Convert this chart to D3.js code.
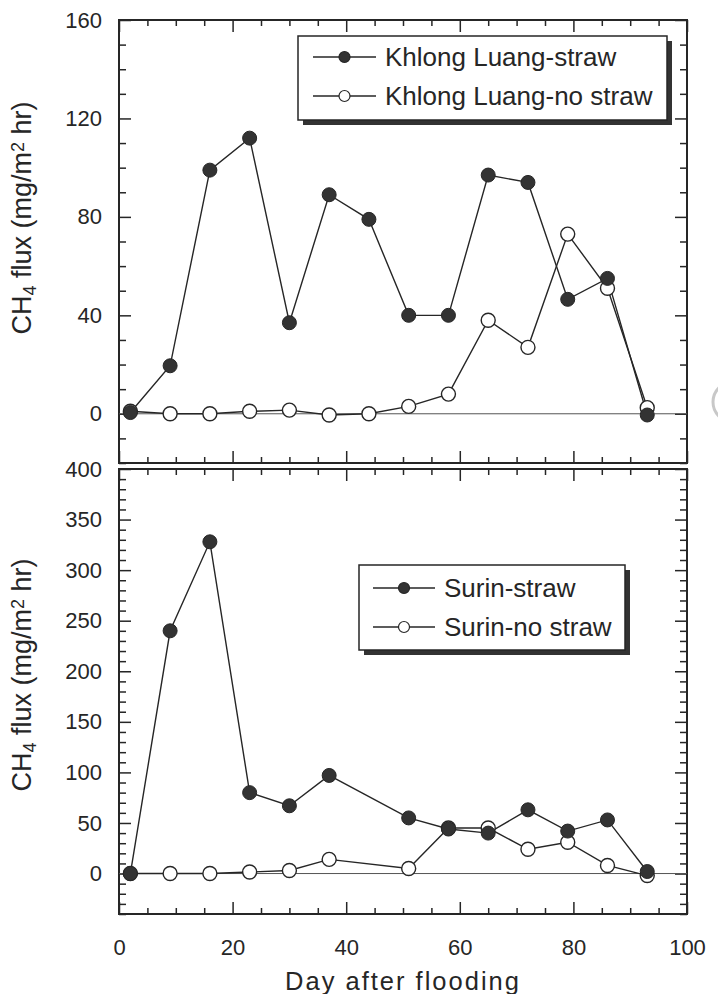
<!DOCTYPE html>
<html>
<head>
<meta charset="utf-8">
<script src="https://cdn.jsdelivr.net/npm/d3@7"></script>
<style>
  body { margin: 0; background: #fff; }
  svg { display: block; font-family: "Liberation Sans", Arial, Helvetica, sans-serif; }
</style>
</head>
<body>
<div id="chart"></div>
<script>

// sampling days (day after flooding)
var daysKL = [2, 9, 16, 23, 30, 37, 44, 51, 58, 65, 72, 79, 86, 93],
  daysSU = [2, 9, 16, 23, 30, 37, 51, 58, 65, 72, 79, 86, 93];

// CH4 flux values (mg/m2 hr)
var klStraw = [0.5, 19.5, 99, 112, 37, 89, 79, 40, 40, 97, 94, 46.5, 55, -0.5],
  klNoStraw = [1, 0, 0, 1, 1.5, -0.5, 0, 3, 8, 38, 27, 73, 51, 2.5];
var suStraw = [0, 240, 328, 80, 67, 97, 55, 44, 40, 63, 42, 53, 2],
  suNoStraw = [0, 0, 0, 1.5, 3, 14, 5, 45, 45, 24, 31, 8, -2];

var legendTop = ["Khlong Luang-straw", "Khlong Luang-no straw"],
  legendBot = ["Surin-straw", "Surin-no straw"];

var xTicks = [0, 20, 40, 60, 80, 100],
  yTicksTop = [0, 40, 80, 120, 160],
  yTicksBot = [0, 50, 100, 150, 200, 250, 300, 350, 400];

var W = 718, H = 994;
var ink = "#262626";

var svg = d3.select("#chart").append("svg")
  .attr("width", W)
  .attr("height", H);

var x = d3.scaleLinear().domain([0, 100]).range([119, 687]);
var yTop = d3.scaleLinear().domain([-20, 160]).range([463, 20]);
var yBot = d3.scaleLinear().domain([-40, 400]).range([914, 469]);

var xMinor = d3.range(0, 101, 5).filter(function(v) { return v % 20 != 0; });
var minorY = function (dom, major) {
  return d3.range(dom[0], dom[1] + 1, 10).filter(function(v) { return major.indexOf(v) < 0; });
}

// scanner smudge at the right edge
svg.append("circle")
  .attr("cx", 733).attr("cy", 402).attr("r", 20)
  .attr("fill", "none").attr("stroke", "#c8c8c8").attr("stroke-width", 3);

var styleAxis = function (g) {
  g.select(".domain").remove();
  g.selectAll(".tick line").attr("stroke", ink).attr("stroke-width", 1.5);
  g.selectAll(".tick text").attr("fill", ink).style("font-size", "22px")
    .style("font-family", "'Liberation Sans', Arial, sans-serif");
}

var drawPanel = function (y, yTicks, days, straw, noStraw, legend, leg) {
  var dom = y.domain();
  var top = y(dom[1]), bottom = y(dom[0]);
  var yMinor = minorY(dom, yTicks);

  // y axes (ticks pointing inward)
  svg.append("g").attr("transform", "translate(" + x(0) + ",0)")
    .call(d3.axisLeft(y).tickValues(yMinor).tickSize(-7).tickFormat(""))
    .call(styleAxis);
  svg.append("g").attr("transform", "translate(" + x(0) + ",0)")
    .call(d3.axisLeft(y).tickValues(yTicks).tickSize(-12).tickPadding(17).tickFormat(d3.format("d")))
    .call(styleAxis);
  svg.append("g").attr("transform", "translate(" + x(100) + ",0)")
    .call(d3.axisRight(y).tickValues(yMinor).tickSize(-7).tickFormat(""))
    .call(styleAxis);
  svg.append("g").attr("transform", "translate(" + x(100) + ",0)")
    .call(d3.axisRight(y).tickValues(yTicks).tickSize(-12).tickFormat(""))
    .call(styleAxis);

  // x axes, top and bottom of the panel
  svg.append("g").attr("transform", "translate(0," + top + ")")
    .call(d3.axisTop(x).tickValues(xMinor).tickSize(-6).tickFormat(""))
    .call(styleAxis);
  svg.append("g").attr("transform", "translate(0," + top + ")")
    .call(d3.axisTop(x).tickValues(xTicks).tickSize(-12).tickFormat(""))
    .call(styleAxis);
  svg.append("g").attr("transform", "translate(0," + bottom + ")")
    .call(d3.axisBottom(x).tickValues(xMinor).tickSize(-6).tickFormat(""))
    .call(styleAxis);
  svg.append("g").attr("class", "xb").attr("transform", "translate(0," + bottom + ")")
    .call(d3.axisBottom(x).tickValues(xTicks).tickSize(-12).tickFormat(""))
    .call(styleAxis);

  // frame
  svg.append("rect")
    .attr("x", x(0)).attr("y", top)
    .attr("width", x(100) - x(0)).attr("height", bottom - top)
    .attr("fill", "none").attr("stroke", ink).attr("stroke-width", 2);

  // zero line
  svg.append("line")
    .attr("x1", x(0)).attr("x2", x(100))
    .attr("y1", y(0)).attr("y2", y(0))
    .attr("stroke", "#555").attr("stroke-width", 1);

  var line = d3.line()
    .x(function(d) { return x(d[0]); })
    .y(function(d) { return y(d[1]); });

  var ptsOpen = days.map(function(d, i) { return [d, noStraw[i]]; });
  var ptsFill = days.map(function(d, i) { return [d, straw[i]]; });

  svg.append("path").datum(ptsOpen)
    .attr("fill", "none").attr("stroke", ink).attr("stroke-width", 1.4)
    .attr("d", line);
  svg.append("path").datum(ptsFill)
    .attr("fill", "none").attr("stroke", ink).attr("stroke-width", 1.4)
    .attr("d", line);

  svg.append("g").selectAll("circle").data(ptsOpen).enter().append("circle")
    .attr("cx", function(d) { return x(d[0]); })
    .attr("cy", function(d) { return y(d[1]); })
    .attr("r", 7)
    .attr("fill", "#fff").attr("stroke", ink).attr("stroke-width", 1.4);
  svg.append("g").selectAll("circle").data(ptsFill).enter().append("circle")
    .attr("cx", function(d) { return x(d[0]); })
    .attr("cy", function(d) { return y(d[1]); })
    .attr("r", 7)
    .attr("fill", "#333").attr("stroke", ink).attr("stroke-width", 1);

  // legend box with drop shadow
  var lg = svg.append("g");
  lg.append("rect")
    .attr("x", leg.x + 5).attr("y", leg.y + 5)
    .attr("width", leg.w).attr("height", leg.h)
    .attr("fill", "#333");
  lg.append("rect")
    .attr("x", leg.x).attr("y", leg.y)
    .attr("width", leg.w).attr("height", leg.h)
    .attr("fill", "#fff").attr("stroke", ink).attr("stroke-width", 1.5);
  for (var ii = 0; ii < 2; ii++) {
    var ry = leg.y + leg.row0 + ii * leg.dy;
    lg.append("line")
      .attr("x1", leg.x + leg.l0).attr("x2", leg.x + leg.l1)
      .attr("y1", ry).attr("y2", ry)
      .attr("stroke", ink).attr("stroke-width", 1.4);
    lg.append("circle")
      .attr("cx", leg.x + (leg.l0 + leg.l1) / 2).attr("cy", ry).attr("r", 5.5)
      .attr("fill", ii == 0 ? "#333" : "#fff")
      .attr("stroke", ink).attr("stroke-width", 1.2);
    lg.append("text")
      .attr("x", leg.x + leg.tx).attr("y", ry).attr("dy", "0.35em")
      .style("font-size", "26px").attr("fill", ink)
      .text(legend[ii]);
  }

  // y axis title
  var t = svg.append("text")
    .attr("text-anchor", "middle")
    .attr("transform", "translate(31," + leg.titleY + ")rotate(-90)")
    .style("font-size", "27px").attr("fill", ink);
  t.append("tspan").text("CH");
  t.append("tspan").attr("baseline-shift", "-25%").style("font-size", "18px").text("4");
  t.append("tspan").text(" flux (mg/m");
  t.append("tspan").attr("baseline-shift", "40%").style("font-size", "18px").text("2");
  t.append("tspan").text(" hr)");
}

drawPanel(yTop, yTicksTop, daysKL, klStraw, klNoStraw, legendTop,
  {x: 298, y: 36, w: 369, h: 84, row0: 21, dy: 39, l0: 15, l1: 78, tx: 87, titleY: 218});
drawPanel(yBot, yTicksBot, daysSU, suStraw, suNoStraw, legendBot,
  {x: 359, y: 565, w: 266, h: 85, row0: 23, dy: 39, l0: 14, l1: 76, tx: 85, titleY: 675});

// x tick labels under the lower panel
svg.append("g").attr("transform", "translate(0," + yBot(-40) + ")")
  .call(d3.axisBottom(x).tickValues(xTicks).tickSize(0).tickPadding(25))
  .call(styleAxis);

// x axis title
svg.append("text")
  .attr("text-anchor", "middle")
  .attr("x", (x(0) + x(100)) / 2)
  .attr("y", 990)
  .style("font-size", "25.5px").style("letter-spacing", "2px")
  .attr("fill", ink)
  .text("Day after flooding");

</script>
</body>
</html>
